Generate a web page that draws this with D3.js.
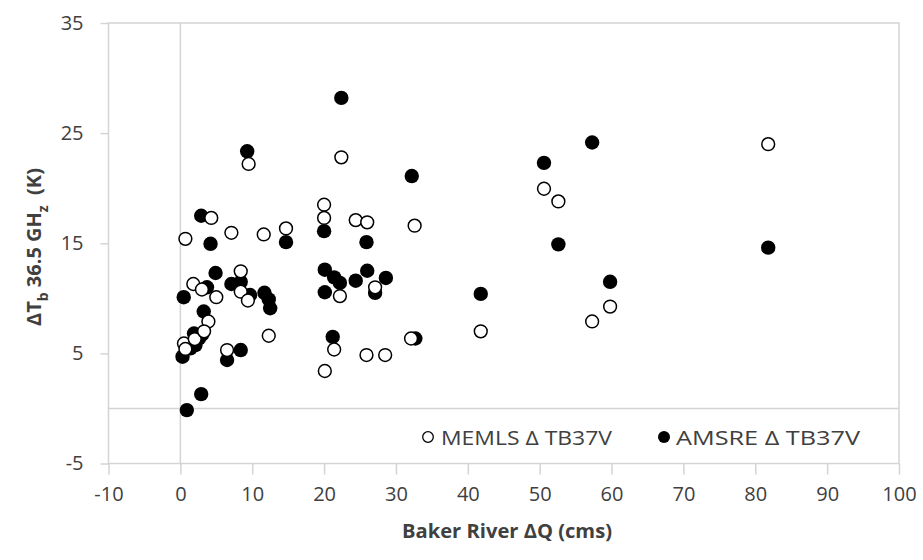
<!DOCTYPE html>
<html>
<head>
<meta charset="utf-8">
<script src="https://cdn.jsdelivr.net/npm/d3@7"></script>
<style>
  body { margin: 0; background: #fff; }
  svg { display: block; }
  .tick text { font-family: "Open Sans", sans-serif; font-size: 20px; fill: #404040; }
</style>
</head>
<body>
<svg id="chart" width="923" height="560"></svg>
<script>
// Baker River discharge change vs. 36.5 GHz brightness temperature change
const xTicks = [-10, 0, 10, 20, 30, 40, 50, 60, 70, 80, 90, 100];
const yTicks = [-5, 5, 15, 25, 35];
const seriesNames = ['MEMLS \u0394 TB37V', 'AMSRE \u0394 TB37V'];

// [dQ, dTb]
const memls = [
  [0.7, 15.4], [4.3, 17.3], [7.1, 15.95], [11.6, 15.8], [14.7, 16.35], [9.5, 22.2],
  [20.0, 18.5], [20.0, 17.3], [24.4, 17.1], [26.0, 16.9], [32.6, 16.6], [22.4, 22.8],
  [1.8, 11.3], [3.0, 10.8], [5.0, 10.1], [8.4, 12.45], [8.4, 10.6], [9.4, 9.8],
  [3.9, 7.9], [0.5, 5.9], [0.7, 5.4], [2.0, 6.3], [3.3, 7.0], [6.5, 5.3], [12.3, 6.6],
  [22.2, 10.2], [27.1, 11.0], [21.4, 5.35], [20.1, 3.4], [25.9, 4.85], [28.5, 4.85],
  [32.1, 6.35], [41.8, 7.0], [50.6, 19.95], [52.6, 18.8], [57.3, 7.9], [59.8, 9.25],
  [81.8, 24.0]
];
const amsre = [
  [2.9, 17.5], [4.2, 14.95], [14.7, 15.1], [20.0, 16.1], [9.3, 23.35], [22.4, 28.2],
  [32.2, 21.1], [25.9, 15.1], [4.9, 12.3], [3.7, 11.0], [0.47, 10.1], [7.1, 11.3],
  [8.4, 11.5], [9.7, 10.3], [11.7, 10.5], [12.3, 9.9], [12.5, 9.1], [3.25, 8.8],
  [1.9, 6.8], [2.6, 6.35], [3.0, 6.7], [2.1, 5.75], [1.4, 5.45], [0.3, 4.7], [6.5, 4.4],
  [8.4, 5.3], [2.9, 1.3], [0.9, -0.15], [20.1, 12.6], [21.4, 11.9], [22.2, 11.4],
  [20.1, 10.55], [24.4, 11.6], [26.0, 12.5], [28.6, 11.85], [27.1, 10.5], [21.2, 6.5],
  [32.7, 6.35], [41.8, 10.4], [50.6, 22.3], [52.6, 14.9], [57.3, 24.15], [59.8, 11.5],
  [81.8, 14.6]
];

const GRID = '#d4d4d4', FONT = '"Open Sans", sans-serif', TEXT = '#404040';
const svg = d3.select('#chart');
const x = d3.scaleLinear().domain([-10, 100]).range([108.5, 899]);
const y = d3.scaleLinear().domain([-5, 35]).range([463.5, 23]);

// plot frame + zero lines
svg.append('rect')
  .attr('x', x(-10)).attr('y', y(35))
  .attr('width', x(100) - x(-10)).attr('height', y(-5) - y(35))
  .style('fill', 'none').style('stroke', GRID).style('stroke-width', 1.5);
svg.append('line')
  .attr('x1', x(0)).attr('x2', x(0)).attr('y1', y(35)).attr('y2', y(-5))
  .style('stroke', GRID).style('stroke-width', 1.5);
svg.append('line')
  .attr('x1', x(-10)).attr('x2', x(100)).attr('y1', y(0)).attr('y2', y(0))
  .style('stroke', GRID).style('stroke-width', 1.5);

const fmt = d => String(d);  // plain hyphen minus, as in the source
const xAxis = svg.append('g')
  .attr('transform', `translate(0,${y(-5)})`)
  .call(d3.axisBottom(x).tickValues(xTicks).tickFormat(fmt).tickSize(11).tickSizeOuter(0).tickPadding(7));
const yAxis = svg.append('g')
  .attr('transform', `translate(${x(-10)},0)`)
  .call(d3.axisLeft(y).tickValues(yTicks).tickFormat(fmt).tickSize(8).tickSizeOuter(0).tickPadding(17));
for (const ax of [xAxis, yAxis]) {
  ax.select('.domain').remove();
  ax.selectAll('.tick line').style('stroke', GRID).style('stroke-width', 1.5);
  ax.selectAll('.tick text').attr('font-size', null).attr('font-family', null);
}
xAxis.selectAll('.tick text').attr('dy', '0.95em');

// points: AMSRE first, MEMLS (white filled) on top
svg.append('g').selectAll('circle').data(amsre).join('circle')
  .attr('cx', d => x(d[0])).attr('cy', d => y(d[1])).attr('r', 7.2)
  .style('fill', '#000');
svg.append('g').selectAll('circle').data(memls).join('circle')
  .attr('cx', d => x(d[0])).attr('cy', d => y(d[1])).attr('r', 6.4)
  .style('fill', '#fff').style('stroke', '#000').style('stroke-width', 1.5);

// legend
const legend = svg.append('g').attr('transform', 'translate(428,437)');
legend.append('circle').attr('cx', 0).attr('cy', 0).attr('r', 5.3)
  .style('fill', '#fff').style('stroke', '#000').style('stroke-width', 1.3);
legend.append('text').attr('x', 13).attr('y', 0).attr('dominant-baseline', 'central')
  .attr('textLength', 171).attr('lengthAdjust', 'spacingAndGlyphs')
  .style('font-family', FONT).style('font-size', '20px').style('fill', TEXT)
  .text(seriesNames[0]);
legend.append('circle').attr('cx', 236).attr('cy', 0).attr('r', 6)
  .style('fill', '#000');
legend.append('text').attr('x', 248).attr('y', 0).attr('dominant-baseline', 'central')
  .attr('textLength', 184).attr('lengthAdjust', 'spacingAndGlyphs')
  .style('font-family', FONT).style('font-size', '20px').style('fill', TEXT)
  .text(seriesNames[1]);

// axis titles
svg.append('text')
  .attr('x', 507).attr('y', 530).attr('text-anchor', 'middle').attr('dominant-baseline', 'central')
  .attr('textLength', 210).attr('lengthAdjust', 'spacingAndGlyphs')
  .style('font-family', FONT).style('font-size', '20px').style('font-weight', 700).style('fill', TEXT)
  .text('Baker River \u0394Q (cms)');

const yt = svg.append('text')
  .attr('transform', 'translate(33,247) rotate(-90)')
  .attr('text-anchor', 'middle').attr('dominant-baseline', 'central')
  .style('font-family', FONT).style('font-size', '20px').style('font-weight', 700).style('fill', TEXT);
yt.append('tspan').text('\u0394T');
yt.append('tspan').attr('baseline-shift', 'sub').style('font-size', '14px').text('b');
yt.append('tspan').text(' 36.5 GH');
yt.append('tspan').attr('baseline-shift', 'sub').style('font-size', '14px').text('z');
yt.append('tspan').text('\u00a0 (K)');
</script>
</body>
</html>
